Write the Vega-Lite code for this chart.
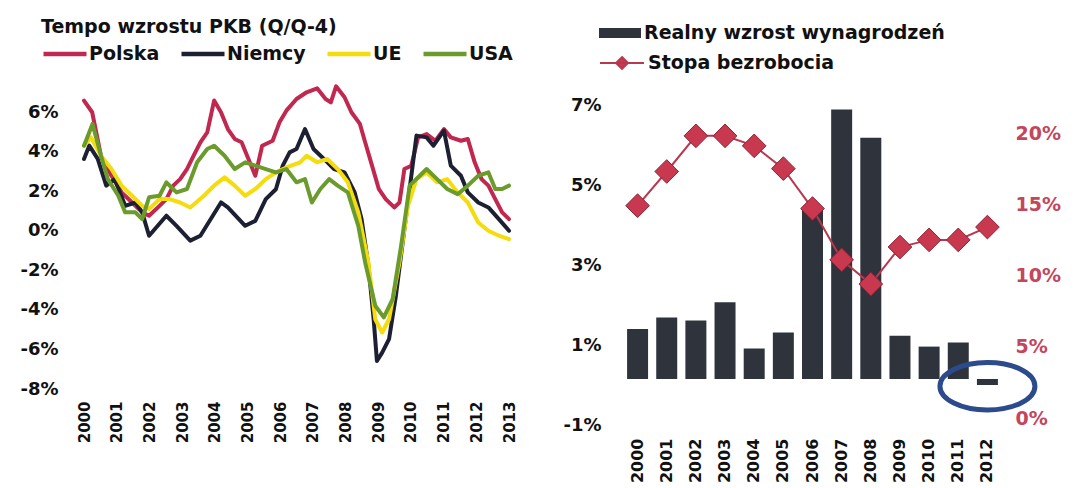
{
  "$schema": "https://vega.github.io/schema/vega-lite/v6.json",
  "background": "white",
  "padding": {"left": 19, "top": 12, "right": 0, "bottom": 0},
  "autosize": {"type": "pad"},
  "bounds": "flush",
  "spacing": 114,
  "config": {
    "view": {"stroke": null},
    "font": "DejaVu Sans",
    "axis": {"grid": false, "domain": false, "ticks": false, "title": null, "labelFont": "DejaVu Sans", "labelFontWeight": "bold", "labelColor": "#111111"},
    "legend": {"labelFont": "DejaVu Sans", "titleFont": "DejaVu Sans", "padding": 0, "labelLimit": 500, "titleLimit": 500}
  },
  "resolve": {"scale": {"color": "independent", "stroke": "independent"}, "legend": {"color": "independent", "stroke": "independent"}},
  "datasets": {
    "pkb": [
      {"t": 2000.00, "k": "Polska", "v": 6.58}, {"t": 2000.25, "k": "Polska", "v": 5.99}, {"t": 2000.52, "k": "Polska", "v": 3.79}, {"t": 2000.84, "k": "Polska", "v": 2.78}, {"t": 2001.15, "k": "Polska", "v": 1.94}, {"t": 2001.47, "k": "Polska", "v": 1.43}, {"t": 2001.78, "k": "Polska", "v": 0.93}, {"t": 2001.99, "k": "Polska", "v": 0.76}, {"t": 2002.31, "k": "Polska", "v": 1.26}, {"t": 2002.52, "k": "Polska", "v": 1.60}, {"t": 2002.73, "k": "Polska", "v": 2.28}, {"t": 2002.94, "k": "Polska", "v": 2.61}, {"t": 2003.15, "k": "Polska", "v": 3.12}, {"t": 2003.35, "k": "Polska", "v": 3.79}, {"t": 2003.56, "k": "Polska", "v": 4.47}, {"t": 2003.77, "k": "Polska", "v": 4.97}, {"t": 2003.98, "k": "Polska", "v": 6.58}, {"t": 2004.19, "k": "Polska", "v": 5.99}, {"t": 2004.40, "k": "Polska", "v": 5.14}, {"t": 2004.61, "k": "Polska", "v": 4.64}, {"t": 2004.82, "k": "Polska", "v": 4.47}, {"t": 2005.03, "k": "Polska", "v": 3.63}, {"t": 2005.24, "k": "Polska", "v": 2.78}, {"t": 2005.45, "k": "Polska", "v": 4.30}, {"t": 2005.77, "k": "Polska", "v": 4.55}, {"t": 2005.98, "k": "Polska", "v": 5.48}, {"t": 2006.19, "k": "Polska", "v": 6.07}, {"t": 2006.50, "k": "Polska", "v": 6.66}, {"t": 2006.81, "k": "Polska", "v": 7.00}, {"t": 2007.13, "k": "Polska", "v": 7.20}, {"t": 2007.39, "k": "Polska", "v": 6.66}, {"t": 2007.55, "k": "Polska", "v": 6.49}, {"t": 2007.71, "k": "Polska", "v": 7.30}, {"t": 2007.97, "k": "Polska", "v": 6.75}, {"t": 2008.18, "k": "Polska", "v": 5.99}, {"t": 2008.44, "k": "Polska", "v": 5.40}, {"t": 2008.60, "k": "Polska", "v": 4.47}, {"t": 2008.81, "k": "Polska", "v": 3.29}, {"t": 2009.02, "k": "Polska", "v": 2.10}, {"t": 2009.23, "k": "Polska", "v": 1.60}, {"t": 2009.49, "k": "Polska", "v": 1.18}, {"t": 2009.65, "k": "Polska", "v": 1.43}, {"t": 2009.80, "k": "Polska", "v": 3.12}, {"t": 2010.01, "k": "Polska", "v": 3.29}, {"t": 2010.22, "k": "Polska", "v": 4.72}, {"t": 2010.48, "k": "Polska", "v": 4.89}, {"t": 2010.75, "k": "Polska", "v": 4.55}, {"t": 2011.01, "k": "Polska", "v": 5.14}, {"t": 2011.22, "k": "Polska", "v": 4.72}, {"t": 2011.53, "k": "Polska", "v": 4.55}, {"t": 2011.74, "k": "Polska", "v": 4.64}, {"t": 2011.95, "k": "Polska", "v": 3.46}, {"t": 2012.16, "k": "Polska", "v": 2.61}, {"t": 2012.37, "k": "Polska", "v": 2.28}, {"t": 2012.58, "k": "Polska", "v": 1.60}, {"t": 2012.79, "k": "Polska", "v": 0.93}, {"t": 2013.00, "k": "Polska", "v": 0.59},
      {"t": 2000.00, "k": "Niemcy", "v": 3.63}, {"t": 2000.16, "k": "Niemcy", "v": 4.30}, {"t": 2000.42, "k": "Niemcy", "v": 3.63}, {"t": 2000.68, "k": "Niemcy", "v": 2.28}, {"t": 2000.94, "k": "Niemcy", "v": 2.61}, {"t": 2001.26, "k": "Niemcy", "v": 1.26}, {"t": 2001.57, "k": "Niemcy", "v": 1.43}, {"t": 2001.78, "k": "Niemcy", "v": 0.93}, {"t": 2001.99, "k": "Niemcy", "v": -0.25}, {"t": 2002.52, "k": "Niemcy", "v": 0.76}, {"t": 2002.83, "k": "Niemcy", "v": 0.25}, {"t": 2003.25, "k": "Niemcy", "v": -0.50}, {"t": 2003.56, "k": "Niemcy", "v": -0.25}, {"t": 2004.19, "k": "Niemcy", "v": 1.43}, {"t": 2004.40, "k": "Niemcy", "v": 1.18}, {"t": 2004.93, "k": "Niemcy", "v": 0.25}, {"t": 2005.24, "k": "Niemcy", "v": 0.50}, {"t": 2005.56, "k": "Niemcy", "v": 1.60}, {"t": 2005.87, "k": "Niemcy", "v": 2.10}, {"t": 2006.08, "k": "Niemcy", "v": 3.29}, {"t": 2006.29, "k": "Niemcy", "v": 3.96}, {"t": 2006.50, "k": "Niemcy", "v": 4.13}, {"t": 2006.76, "k": "Niemcy", "v": 5.14}, {"t": 2007.02, "k": "Niemcy", "v": 4.13}, {"t": 2007.34, "k": "Niemcy", "v": 3.63}, {"t": 2007.65, "k": "Niemcy", "v": 3.12}, {"t": 2007.97, "k": "Niemcy", "v": 2.95}, {"t": 2008.28, "k": "Niemcy", "v": 1.94}, {"t": 2008.49, "k": "Niemcy", "v": 0.59}, {"t": 2008.70, "k": "Niemcy", "v": -1.77}, {"t": 2008.86, "k": "Niemcy", "v": -4.47}, {"t": 2008.96, "k": "Niemcy", "v": -6.58}, {"t": 2009.12, "k": "Niemcy", "v": -6.16}, {"t": 2009.33, "k": "Niemcy", "v": -5.48}, {"t": 2009.54, "k": "Niemcy", "v": -3.29}, {"t": 2009.80, "k": "Niemcy", "v": 0.08}, {"t": 2009.96, "k": "Niemcy", "v": 2.10}, {"t": 2010.17, "k": "Niemcy", "v": 4.81}, {"t": 2010.48, "k": "Niemcy", "v": 4.72}, {"t": 2010.69, "k": "Niemcy", "v": 4.30}, {"t": 2011.01, "k": "Niemcy", "v": 5.06}, {"t": 2011.22, "k": "Niemcy", "v": 3.29}, {"t": 2011.53, "k": "Niemcy", "v": 2.78}, {"t": 2011.74, "k": "Niemcy", "v": 1.94}, {"t": 2012.06, "k": "Niemcy", "v": 1.43}, {"t": 2012.37, "k": "Niemcy", "v": 1.18}, {"t": 2012.69, "k": "Niemcy", "v": 0.59}, {"t": 2013.00, "k": "Niemcy", "v": 0.00},
      {"t": 2000.00, "k": "UE", "v": 4.30}, {"t": 2000.21, "k": "UE", "v": 4.72}, {"t": 2000.52, "k": "UE", "v": 3.79}, {"t": 2000.84, "k": "UE", "v": 3.12}, {"t": 2001.15, "k": "UE", "v": 2.28}, {"t": 2001.47, "k": "UE", "v": 1.77}, {"t": 2001.78, "k": "UE", "v": 1.26}, {"t": 2001.99, "k": "UE", "v": 1.10}, {"t": 2002.31, "k": "UE", "v": 1.60}, {"t": 2002.62, "k": "UE", "v": 1.60}, {"t": 2002.94, "k": "UE", "v": 1.43}, {"t": 2003.25, "k": "UE", "v": 1.18}, {"t": 2003.67, "k": "UE", "v": 1.77}, {"t": 2003.98, "k": "UE", "v": 2.28}, {"t": 2004.30, "k": "UE", "v": 2.70}, {"t": 2004.61, "k": "UE", "v": 2.28}, {"t": 2004.93, "k": "UE", "v": 1.77}, {"t": 2005.24, "k": "UE", "v": 2.11}, {"t": 2005.56, "k": "UE", "v": 2.61}, {"t": 2005.87, "k": "UE", "v": 2.95}, {"t": 2006.19, "k": "UE", "v": 3.20}, {"t": 2006.61, "k": "UE", "v": 3.46}, {"t": 2006.81, "k": "UE", "v": 3.79}, {"t": 2007.13, "k": "UE", "v": 3.46}, {"t": 2007.44, "k": "UE", "v": 3.63}, {"t": 2007.76, "k": "UE", "v": 3.12}, {"t": 2008.07, "k": "UE", "v": 2.45}, {"t": 2008.39, "k": "UE", "v": 0.93}, {"t": 2008.70, "k": "UE", "v": -1.60}, {"t": 2008.91, "k": "UE", "v": -4.47}, {"t": 2009.12, "k": "UE", "v": -5.14}, {"t": 2009.33, "k": "UE", "v": -4.47}, {"t": 2009.65, "k": "UE", "v": -1.60}, {"t": 2009.91, "k": "UE", "v": 1.26}, {"t": 2010.17, "k": "UE", "v": 2.61}, {"t": 2010.48, "k": "UE", "v": 2.95}, {"t": 2010.80, "k": "UE", "v": 2.45}, {"t": 2011.11, "k": "UE", "v": 2.61}, {"t": 2011.43, "k": "UE", "v": 1.94}, {"t": 2011.74, "k": "UE", "v": 1.43}, {"t": 2012.06, "k": "UE", "v": 0.42}, {"t": 2012.37, "k": "UE", "v": 0.00}, {"t": 2012.69, "k": "UE", "v": -0.25}, {"t": 2013.00, "k": "UE", "v": -0.42},
      {"t": 2000.00, "k": "USA", "v": 4.30}, {"t": 2000.26, "k": "USA", "v": 5.40}, {"t": 2000.52, "k": "USA", "v": 3.79}, {"t": 2000.73, "k": "USA", "v": 2.61}, {"t": 2001.05, "k": "USA", "v": 1.77}, {"t": 2001.26, "k": "USA", "v": 0.93}, {"t": 2001.57, "k": "USA", "v": 0.93}, {"t": 2001.78, "k": "USA", "v": 0.59}, {"t": 2001.99, "k": "USA", "v": 1.69}, {"t": 2002.31, "k": "USA", "v": 1.77}, {"t": 2002.52, "k": "USA", "v": 2.45}, {"t": 2002.83, "k": "USA", "v": 1.94}, {"t": 2003.15, "k": "USA", "v": 2.11}, {"t": 2003.46, "k": "USA", "v": 3.46}, {"t": 2003.77, "k": "USA", "v": 4.13}, {"t": 2003.98, "k": "USA", "v": 4.30}, {"t": 2004.30, "k": "USA", "v": 3.79}, {"t": 2004.61, "k": "USA", "v": 3.12}, {"t": 2004.93, "k": "USA", "v": 3.46}, {"t": 2005.24, "k": "USA", "v": 3.29}, {"t": 2005.56, "k": "USA", "v": 3.12}, {"t": 2005.87, "k": "USA", "v": 2.95}, {"t": 2006.19, "k": "USA", "v": 3.12}, {"t": 2006.50, "k": "USA", "v": 2.45}, {"t": 2006.76, "k": "USA", "v": 2.61}, {"t": 2006.97, "k": "USA", "v": 1.43}, {"t": 2007.23, "k": "USA", "v": 2.11}, {"t": 2007.50, "k": "USA", "v": 2.61}, {"t": 2007.76, "k": "USA", "v": 2.28}, {"t": 2008.07, "k": "USA", "v": 1.94}, {"t": 2008.39, "k": "USA", "v": 0.25}, {"t": 2008.60, "k": "USA", "v": -1.60}, {"t": 2008.91, "k": "USA", "v": -3.79}, {"t": 2009.17, "k": "USA", "v": -4.38}, {"t": 2009.44, "k": "USA", "v": -3.46}, {"t": 2009.70, "k": "USA", "v": -0.76}, {"t": 2009.96, "k": "USA", "v": 2.28}, {"t": 2010.27, "k": "USA", "v": 2.78}, {"t": 2010.48, "k": "USA", "v": 3.12}, {"t": 2010.80, "k": "USA", "v": 2.61}, {"t": 2011.11, "k": "USA", "v": 2.11}, {"t": 2011.43, "k": "USA", "v": 1.85}, {"t": 2011.74, "k": "USA", "v": 2.28}, {"t": 2012.06, "k": "USA", "v": 2.78}, {"t": 2012.37, "k": "USA", "v": 2.95}, {"t": 2012.58, "k": "USA", "v": 2.11}, {"t": 2012.79, "k": "USA", "v": 2.11}, {"t": 2013.00, "k": "USA", "v": 2.28}
    ],
    "rynek": [
      {"rok": "2000", "wz": 1.25, "bz": 14.9},
      {"rok": "2001", "wz": 1.54, "bz": 17.3},
      {"rok": "2002", "wz": 1.46, "bz": 19.8},
      {"rok": "2003", "wz": 1.92, "bz": 19.8},
      {"rok": "2004", "wz": 0.76, "bz": 19.1},
      {"rok": "2005", "wz": 1.16, "bz": 17.5},
      {"rok": "2006", "wz": 4.24, "bz": 14.7},
      {"rok": "2007", "wz": 6.74, "bz": 11.1},
      {"rok": "2008", "wz": 6.03, "bz": 9.4},
      {"rok": "2009", "wz": 1.08, "bz": 12.0},
      {"rok": "2010", "wz": 0.81, "bz": 12.5},
      {"rok": "2011", "wz": 0.91, "bz": 12.5},
      {"rok": "2012", "wz": -0.15, "bz": 13.4}
    ],
    "zaznaczenie": [{"rok": "2012", "wz": -0.18}]
  },
  "hconcat": [
    {
      "width": 425,
      "height": 315,
      "data": {"name": "pkb"},
      "mark": {"type": "line", "strokeWidth": 4, "strokeJoin": "round", "strokeCap": "round"},
      "encoding": {
        "x": {"field": "t", "type": "quantitative", "scale": {"domain": [2000, 2013], "nice": false, "zero": false},
          "axis": {"values": [2000, 2001, 2002, 2003, 2004, 2005, 2006, 2007, 2008, 2009, 2010, 2011, 2012, 2013], "format": "d", "labelAngle": -90, "labelAlign": "right", "labelBaseline": "middle", "labelFontSize": 15, "labelPadding": 6, "labelFlush": false, "labelOverlap": false}},
        "y": {"field": "v", "type": "quantitative", "scale": {"domain": [-8.3, 7.62], "nice": false, "zero": false},
          "axis": {"values": [-8, -6, -4, -2, 0, 2, 4, 6], "labelExpr": "datum.value + '%'", "labelFontSize": 18, "labelPadding": 26}},
        "color": {"field": "k", "type": "nominal",
          "scale": {"domain": ["Polska", "Niemcy", "UE", "USA"], "range": ["#c0284f", "#1d2033", "#f5dc0c", "#6a9b2c"]},
          "legend": {"orient": "none", "legendX": -43, "legendY": -62, "direction": "horizontal", "title": "Tempo wzrostu PKB (Q/Q-4)", "titleFontSize": 19, "titleFontWeight": "bold", "titleColor": "#111111", "titlePadding": -7, "symbolType": "stroke", "symbolSize": 1849, "symbolStrokeWidth": 4.5, "labelFontSize": 19, "labelFontWeight": "bold", "labelColor": "#111111", "labelOffset": 0, "columnPadding": 12}}
      }
    },
    {
      "width": 379,
      "height": 350,
      "resolve": {"scale": {"y": "independent"}},
      "layer": [
        {
          "layer": [
            {
              "data": {"name": "rynek"},
              "mark": {"type": "bar"},
              "encoding": {
                "x": {"field": "rok", "type": "ordinal", "scale": {"paddingInner": 0.28, "paddingOuter": 0.14},
                  "axis": {"labelAngle": -90, "labelAlign": "right", "labelBaseline": "middle", "labelFontSize": 16, "labelPadding": 8}},
                "y": {"field": "wz", "type": "quantitative", "scale": {"domain": [-1.275, 7.475], "nice": false, "zero": false},
                  "axis": {"orient": "left", "values": [-1, 1, 3, 5, 7], "labelExpr": "datum.value + '%'", "labelFontSize": 18, "labelPadding": 22, "labelOffset": 6}},
                "color": {"datum": "Realny wzrost wynagrodzeń", "scale": {"range": ["#2f343c"]},
                  "legend": {"orient": "none", "legendX": -24, "legendY": -68, "title": null, "symbolType": "M-1,-0.24H1V0.24H-1Z", "symbolSize": 1764, "symbolStrokeWidth": 0, "labelFontSize": 19, "labelFontWeight": "bold", "labelColor": "#111111", "labelOffset": 3}}
              }
            },
            {
              "data": {"name": "zaznaczenie"},
              "mark": {"type": "point", "shape": "M-1,0A1,0.5 0 1,0 1,0A1,0.5 0 1,0 -1,0Z", "size": 9025, "filled": false, "stroke": "#2c4b8c", "strokeWidth": 5, "opacity": 1},
              "encoding": {
                "x": {"field": "rok", "type": "ordinal"},
                "y": {"field": "wz", "type": "quantitative"}
              }
            }
          ]
        },
        {
          "layer": [
            {
              "data": {"name": "rynek"},
              "mark": {"type": "line", "strokeWidth": 2},
              "encoding": {
                "x": {"field": "rok", "type": "ordinal"},
                "y": {"field": "bz", "type": "quantitative", "scale": {"domain": [-0.84, 23.72], "nice": false, "zero": false},
                  "axis": {"orient": "right", "values": [0, 5, 10, 15, 20], "labelExpr": "datum.value + '%'", "labelFontSize": 19, "labelPadding": 13, "labelColor": "#c4455c"}},
                "stroke": {"datum": "Stopa bezrobocia", "scale": {"range": ["#b8384f"]},
                  "legend": {"orient": "none", "legendX": -24, "legendY": -40, "title": null, "symbolType": "M-1,0H1M0,-0.27L0.27,0L0,0.27L-0.27,0Z", "symbolSize": 1936, "symbolStrokeWidth": 2, "symbolFillColor": "#c8394f", "labelFontSize": 19, "labelFontWeight": "bold", "labelColor": "#111111", "labelOffset": 3,
                    "encode": {"symbols": {"update": {"fill": {"value": "#c8394f"}}}}}}
              }
            },
            {
              "data": {"name": "rynek"},
              "mark": {"type": "point", "shape": "diamond", "filled": true, "size": 560, "fill": "#c8394f", "stroke": "#8f2236", "strokeWidth": 1, "opacity": 1},
              "encoding": {
                "x": {"field": "rok", "type": "ordinal"},
                "y": {"field": "bz", "type": "quantitative"}
              }
            }
          ]
        }
      ]
    }
  ]
}
